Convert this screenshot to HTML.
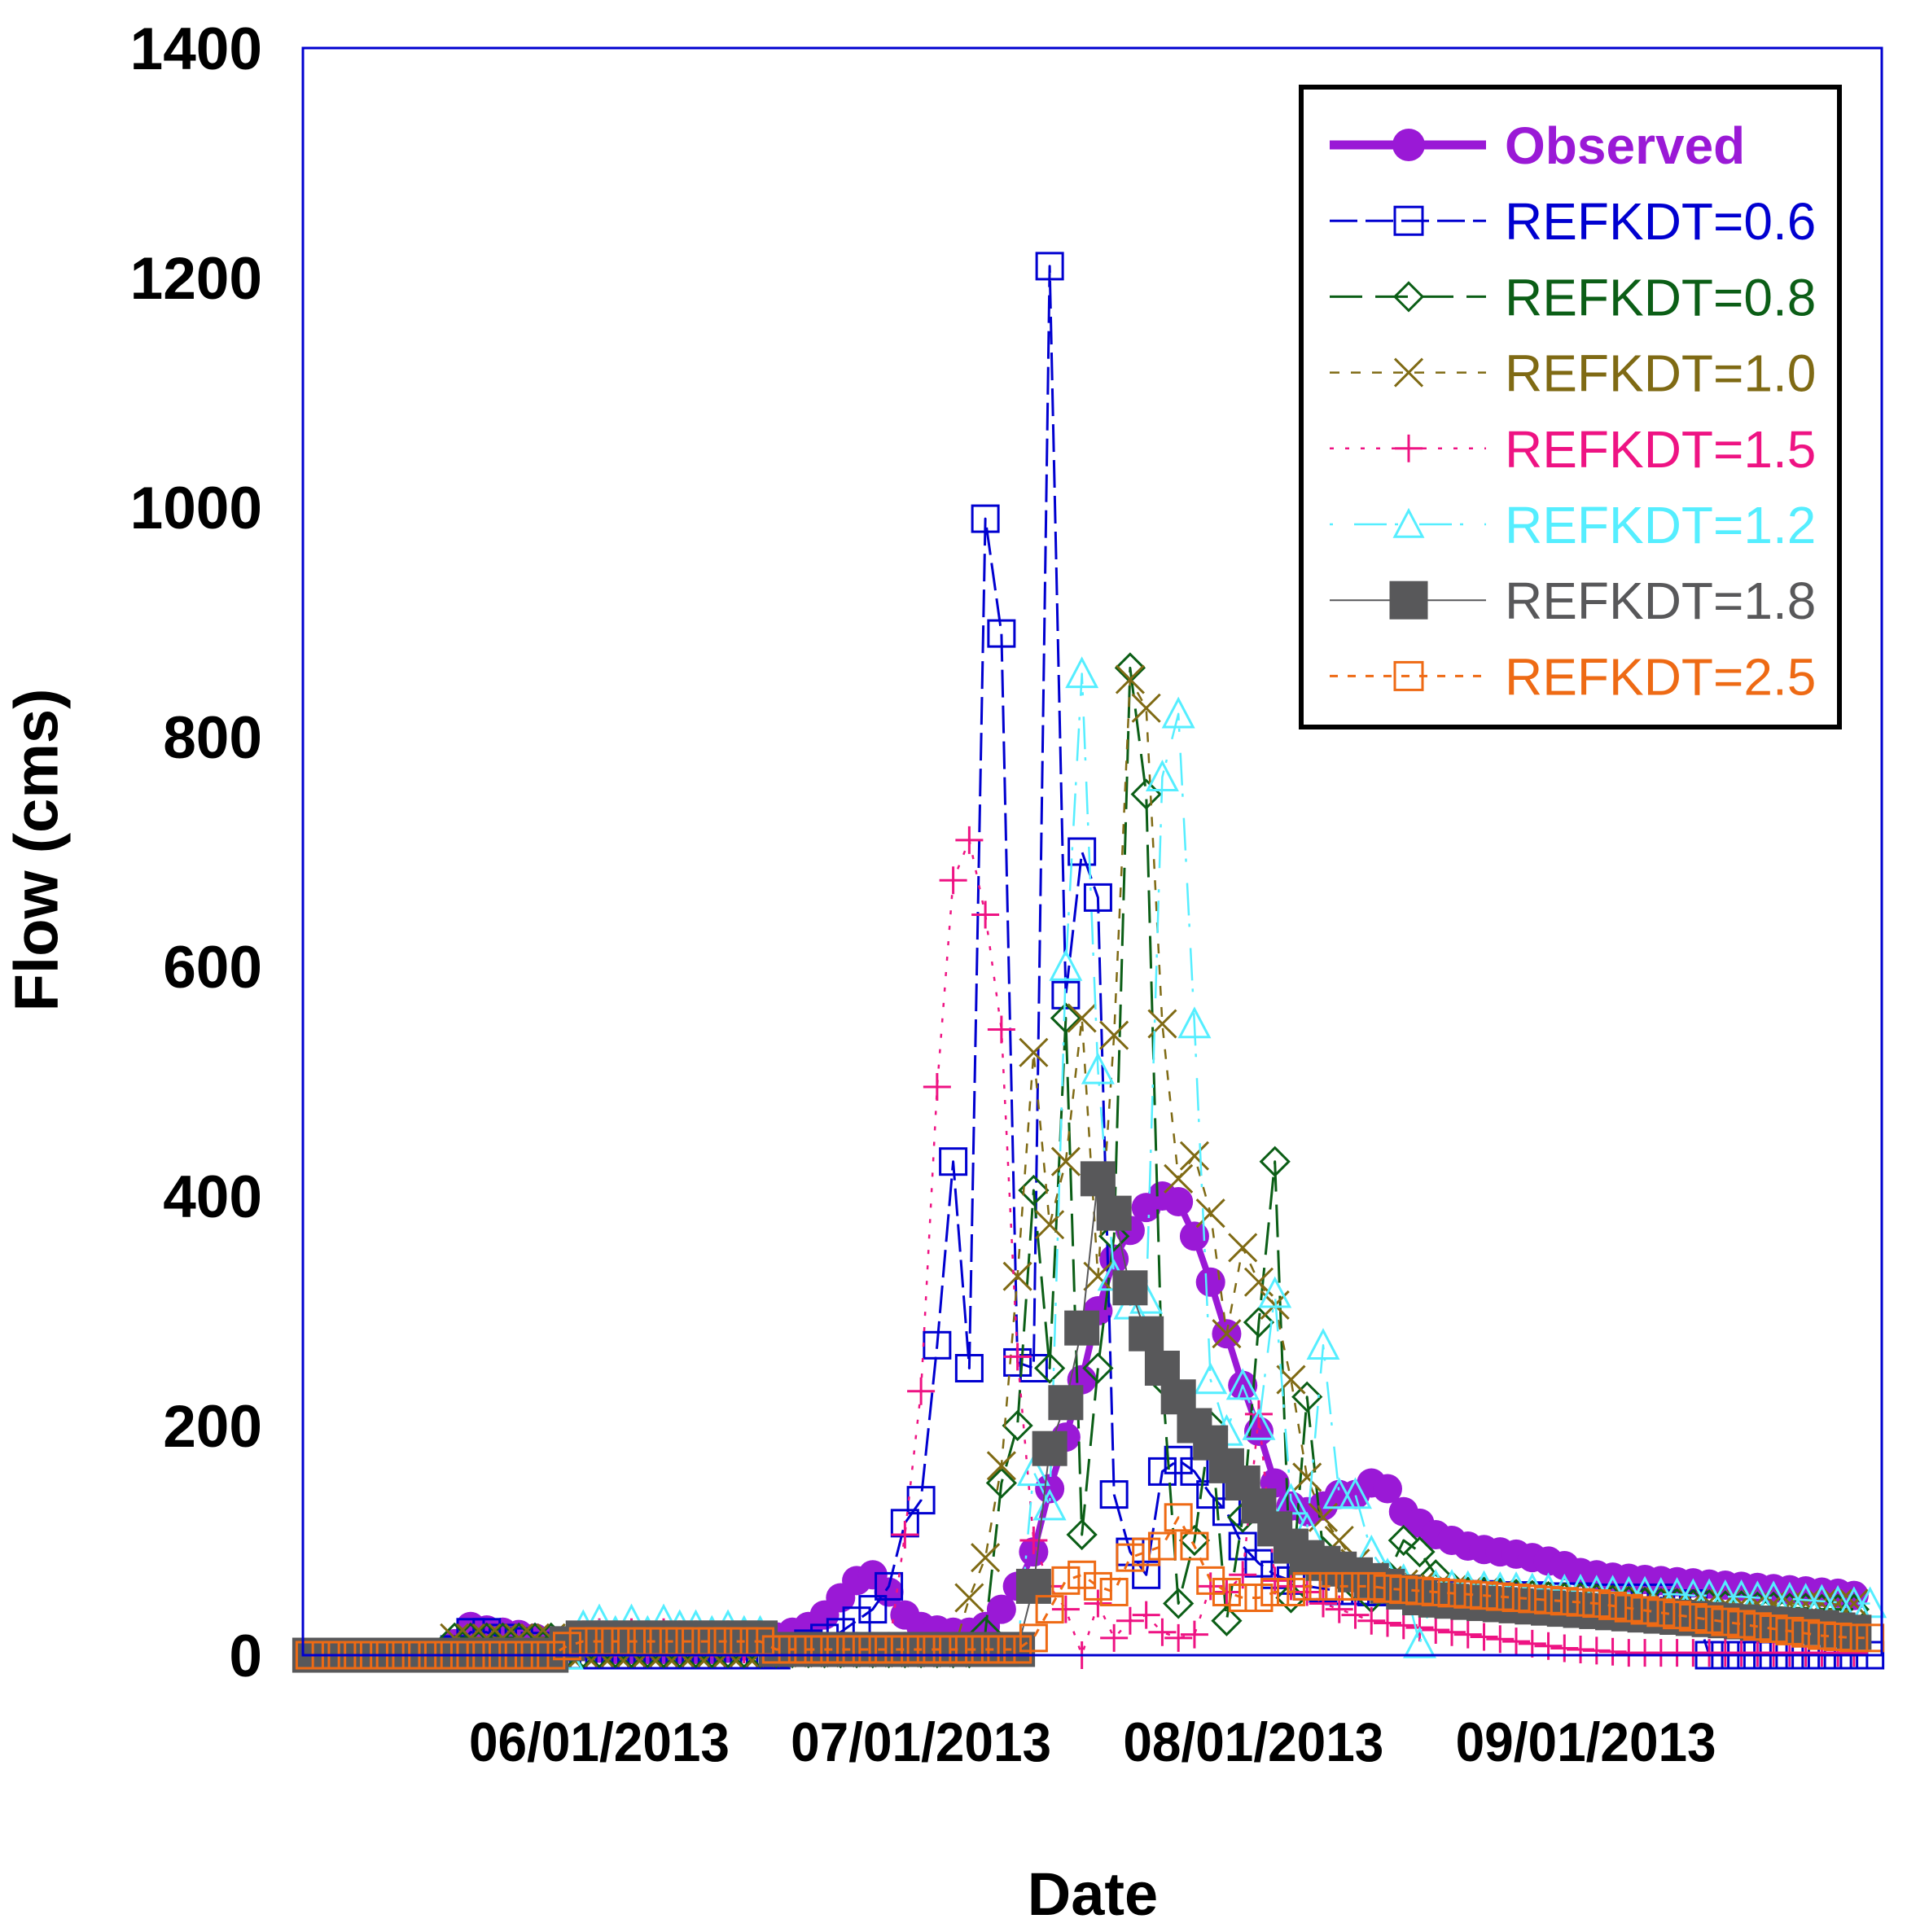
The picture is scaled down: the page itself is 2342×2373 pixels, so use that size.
<!DOCTYPE html>
<html><head><meta charset="utf-8"><style>
html,body{margin:0;padding:0;background:#fff}
svg{display:block}
text{font-family:"Liberation Sans",Arial,sans-serif}
</style></head><body>
<svg id="chart" width="2342" height="2373" viewBox="0 0 2342 2373" xmlns="http://www.w3.org/2000/svg">
<rect x="0" y="0" width="2342" height="2373" fill="#fff"/>
<g id="series"></g>
<rect x="372" y="59" width="1939" height="1974" fill="none" stroke="#0000d0" stroke-width="3"/>
<g id="yticks"></g>
<g id="xticks"></g>
<text x="45" y="1044" transform="rotate(-90 45 1044)" text-anchor="middle" dominant-baseline="central" font-size="76" font-weight="bold">Flow (cms)</text>
<text x="1342" y="2352" text-anchor="middle" font-size="74" font-weight="bold">Date</text>
<g id="legend">
<rect x="1598" y="107" width="661" height="786" fill="#fff" stroke="#000" stroke-width="6"/>
</g>
</svg>
<script>
// ---- data (points every 1.5 days starting 05/05/2013) ----
const startDay = -27;   // days relative to 06/01/2013
const stepDays = 1.5;
const yTicks = [0,200,400,600,800,1000,1200,1400];
const xTickLabels = ["06/01/2013","07/01/2013","08/01/2013","09/01/2013"];
const xTickDays = [0,30,61,92];
const seriesNames = ["Observed","REFKDT=0.6","REFKDT=0.8","REFKDT=1.0","REFKDT=1.5","REFKDT=1.2","REFKDT=1.8","REFKDT=2.5"];

const observed = [0,0,0,0,0,0,0,0,0,10,25,22,20,18,15,12,10,8,6,5,5,5,5,5,5,5,6,8,12,16,20,25,35,50,65,70,55,35,25,22,20,20,25,40,60,90,145,190,240,300,345,370,390,400,395,365,325,280,235,195,150,130,125,130,140,140,150,145,125,115,105,100,95,92,90,88,85,82,78,72,70,68,67,66,65,64,63,62,61,60,59,58,57,56,55,54,52];
const refkdt06 = [0,0,0,0,0,0,0,0,0,5,20,20,15,12,8,2,0,0,0,0,0,0,0,0,0,0,0,0,0,0,5,10,15,20,30,40,60,115,135,270,430,250,990,890,255,250,1210,575,700,660,140,90,70,160,170,160,140,125,95,80,70,65,60,58,56,56,55,55,54,54,54,53,53,53,52,52,52,51,51,51,50,50,50,50,50,45,45,0,0,0,0,0,0,0,0,0,0,0];
const refkdt08 = [0,0,0,0,0,0,0,0,0,15,15,15,15,15,15,15,2,2,2,2,2,2,2,2,2,2,2,2,2,2,2,2,2,2,2,2,2,2,2,2,2,2,20,150,200,405,250,555,105,250,365,860,750,240,45,100,200,30,120,290,430,50,225,90,70,60,50,70,100,90,70,60,55,55,54,53,52,51,50,50,49,48,47,46,45,45,44,44,43,43,42,42,41,41,40,40,40];
const refkdt10 = [0,0,0,0,0,0,0,0,0,15,15,15,15,15,15,15,2,2,2,2,2,2,2,2,2,2,2,2,2,2,2,2,2,2,2,2,2,2,2,2,2,50,85,165,330,525,375,430,555,330,540,850,825,550,415,435,385,280,355,325,305,240,155,120,100,80,70,65,62,60,58,57,56,55,54,53,52,51,50,50,49,48,48,47,47,46,46,46,45,45,45,45,45,45,45,45,45];
const refkdt15 = [0,0,0,0,0,0,0,0,0,0,0,0,0,0,0,0,0,10,20,10,20,10,20,10,15,10,10,5,5,5,5,5,5,5,5,5,5,105,230,495,675,710,645,545,260,100,60,40,0,45,15,30,35,20,15,18,60,55,70,210,65,60,55,45,40,35,30,28,26,24,22,20,18,16,14,12,10,8,6,5,4,3,2,2,2,2,2,2,2,2,2,2,2,2,2,2,2];
const refkdt12 = [0,0,0,0,0,0,0,0,0,0,0,0,0,0,0,0,0,25,30,20,30,20,30,25,25,20,25,20,20,3,3,3,3,3,3,3,3,3,3,3,3,3,3,3,3,160,130,600,855,510,330,305,310,765,820,550,240,195,235,200,315,135,110,270,140,140,90,70,65,10,60,60,59,59,58,58,57,57,56,56,55,55,54,54,53,53,52,52,51,51,50,50,49,48,47,46,45,45];
const refkdt18 = [0,0,0,0,0,0,0,0,0,0,0,0,0,0,0,0,10,15,15,15,15,15,15,15,15,15,15,15,15,5,5,5,5,5,5,5,5,5,5,5,5,5,5,5,5,60,180,220,285,415,385,320,280,250,225,200,185,165,150,130,110,95,85,80,75,70,65,60,55,50,48,47,46,45,44,43,42,41,40,39,38,37,36,35,34,33,32,31,30,29,28,27,26,25,24,22,20];
const refkdt25 = [0,0,0,0,0,0,0,0,0,0,0,0,0,0,0,0,8,12,12,12,12,12,12,12,12,12,12,12,12,5,5,5,5,5,5,5,5,5,5,5,5,5,5,5,5,15,40,65,70,60,55,85,90,95,120,95,65,55,50,50,55,55,60,60,60,60,60,58,57,56,55,54,53,52,51,50,49,48,47,46,45,43,41,39,37,35,33,31,29,27,25,23,21,19,17,16,15,15];

// ---- axes ----
const PX0 = 736, PXD = 13.17, Y0 = 2033, KY = 1.41;
function xDay(d){ return PX0 + PXD*d; }
function xIdx(i){ return xDay(startDay + stepDays*i); }
function yVal(v){ return Y0 - KY*v; }

const NS = "http://www.w3.org/2000/svg";
function mk(tag, attrs, parent){
  const e = document.createElementNS(NS, tag);
  for (const k in attrs) e.setAttribute(k, attrs[k]);
  parent.appendChild(e);
  return e;
}

// y ticks
const yg = document.getElementById('yticks');
yTicks.forEach(v => {
  const t = mk('text', {x:322, y:yVal(v)+26, 'text-anchor':'end', 'font-size':73, 'font-weight':'bold', fill:'#000'}, yg);
  
  
  t.textContent = v;
});
// x ticks
const xg = document.getElementById('xticks');
xTickLabels.forEach((lab, k) => {
  const t = mk('text', {x:xDay(xTickDays[k]), y:2163, 'text-anchor':'middle', 'font-size':68, 'font-weight':'bold', fill:'#000', textLength:320, lengthAdjust:'spacingAndGlyphs'}, xg);
  
  
  t.textContent = lab;
});

// ---- series styles ----
const styles = [
  {data:observed, color:'#9a19d6', w:8, dash:'', marker:'circle', size:18, fill:true},
  {data:refkdt06, color:'#0000d0', w:3, dash:'34,10', marker:'square', size:16, fill:false},
  {data:refkdt08, color:'#0b5e16', w:3, dash:'40,16', marker:'diamond', size:17, fill:false},
  {data:refkdt10, color:'#7f6a14', w:2.5, dash:'12,14', marker:'x', size:17, fill:false},
  {data:refkdt15, color:'#ee1383', w:2.5, dash:'5,14', marker:'plus', size:17, fill:false},
  {data:refkdt12, color:'#55eeff', w:2.5, dash:'4,26,40,10', marker:'triangle', size:18, fill:false},
  {data:refkdt18, color:'#58585a', w:2, dash:'', marker:'square', size:20, fill:true},
  {data:refkdt25, color:'#ee6a14', w:3, dash:'10,12', marker:'square', size:16, fill:false}
];

function marker(g, type, cx, cy, s, color, fill){
  let e;
  const sw = 3;
  if (type==='circle') e = mk('circle', {cx, cy, r:s, fill:color}, g);
  else if (type==='square') e = mk('rect', {x:cx-s, y:cy-s, width:2*s, height:2*s, fill:fill?color:'none', stroke:color, 'stroke-width':sw}, g);
  else if (type==='diamond') e = mk('polygon', {points:`${cx},${cy-s} ${cx+s},${cy} ${cx},${cy+s} ${cx-s},${cy}`, fill:'none', stroke:color, 'stroke-width':sw}, g);
  else if (type==='triangle') e = mk('polygon', {points:`${cx},${cy-s} ${cx+s},${cy+s*0.9} ${cx-s},${cy+s*0.9}`, fill:'none', stroke:color, 'stroke-width':sw}, g);
  else if (type==='x') e = mk('path', {d:`M${cx-s},${cy-s}L${cx+s},${cy+s}M${cx+s},${cy-s}L${cx-s},${cy+s}`, stroke:color, 'stroke-width':sw, fill:'none'}, g);
  else e = mk('path', {d:`M${cx-s},${cy}L${cx+s},${cy}M${cx},${cy-s}L${cx},${cy+s}`, stroke:color, 'stroke-width':sw, fill:'none'}, g);
  return e;
}

const sg = document.getElementById('series');
styles.forEach((st, si) => {
  const g = mk('g', {}, sg);
  
  
  const pts = st.data.map((v,i) => xIdx(i).toFixed(1)+','+yVal(v).toFixed(1)).join(' ');
  const line = mk('polyline', {points:pts, fill:'none', stroke:st.color, 'stroke-width':st.w, 'stroke-linejoin':'round'}, g);
  if (st.dash) line.setAttribute('stroke-dasharray', st.dash);
  
  
  st.data.forEach((v,i) => {
    const m = marker(g, st.marker, xIdx(i), yVal(v), st.size, st.color, st.fill);
    
    
  });
});

// ---- legend ----
const lg = document.getElementById('legend');
styles.forEach((st, k) => {
  const cy = 178 + 93.2*k;
  const g = mk('g', {}, lg);
  
  
  const ln = mk('line', {x1:1633, y1:cy, x2:1825, y2:cy, stroke:st.color, 'stroke-width':k===0?11:st.w}, g);
  if (st.dash) ln.setAttribute('stroke-dasharray', st.dash);
  marker(g, st.marker, 1730, cy, k===0?20:(st.marker==='square'&&st.fill?22:17), st.color, st.fill);
  const t = mk('text', {x:1848, y:cy+23, 'font-size':64, fill:st.color}, g);
  if (k===0) t.setAttribute('font-weight','bold');
  
  
  t.textContent = seriesNames[k];
});
</script>
</body></html>
